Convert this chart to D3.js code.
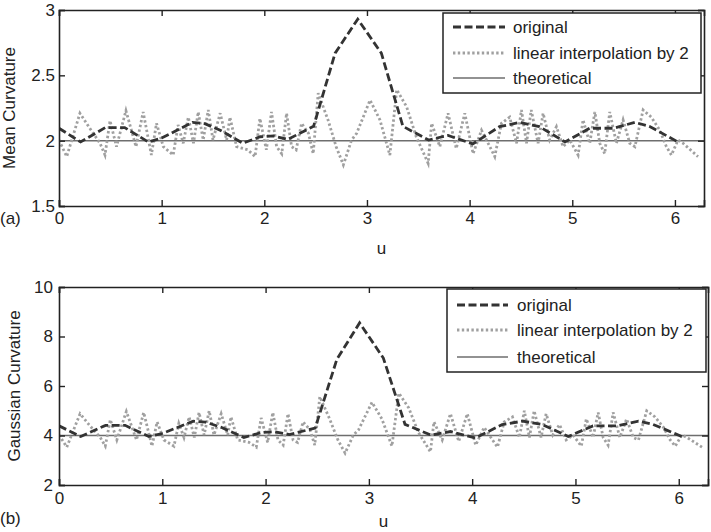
<!DOCTYPE html>
<html>
<head>
<meta charset="utf-8">
<script src="https://cdn.jsdelivr.net/npm/d3@7"></script>
<style>
  body { margin: 0; background: #fff; }
  svg { display: block; font-family: "Liberation Sans", Arial, sans-serif; }
</style>
</head>
<body>
<script>
// u positions and values of the "original" estimate
var uOrig = [0.00, 0.21, 0.45, 0.64, 0.87, 1.00, 1.30, 1.42, 1.57, 1.79,
             1.96, 2.09, 2.23, 2.48, 2.69, 2.91, 3.14, 3.35, 3.60, 3.79,
             4.03, 4.29, 4.49, 4.68, 4.93, 5.17, 5.40, 5.61, 5.75, 6.03];
var hOrig = [2.095, 1.99, 2.10, 2.10, 1.99, 2.02, 2.14, 2.13, 2.08, 1.98,
             2.03, 2.036, 2.01, 2.11, 2.67, 2.93, 2.67, 2.11, 2.005, 2.04,
             1.975, 2.107, 2.14, 2.107, 1.99, 2.095, 2.095, 2.14, 2.11, 1.99];
var kOrig = [4.39, 3.96, 4.41, 4.41, 3.96, 4.08, 4.58, 4.54, 4.33, 3.92,
             4.12, 4.15, 4.04, 4.30, 7.08, 8.55, 7.13, 4.45, 4.02, 4.16,
             3.90, 4.44, 4.58, 4.44, 3.96, 4.39, 4.39, 4.58, 4.45, 3.96];

// "linear interpolation by 2"
var uInterp = [0.00, 0.075, 0.204, 0.30, 0.40, 0.448, 0.497, 0.56, 0.652, 0.75,
               0.82, 0.90, 0.95, 1.016, 1.113, 1.16, 1.21, 1.26, 1.31, 1.356,
               1.405, 1.454, 1.50, 1.57, 1.633, 1.665, 1.73, 1.84, 1.91, 1.957,
               2.02, 2.07, 2.12, 2.17, 2.217, 2.266, 2.31, 2.363, 2.43, 2.476,
               2.525, 2.62, 2.70, 2.77, 2.85, 2.90, 3.03, 3.126, 3.223, 3.29,
               3.386, 3.48, 3.596, 3.63, 3.71, 3.79, 3.87, 3.953, 4.034, 4.116,
               4.197, 4.245, 4.31, 4.39, 4.457, 4.505, 4.554, 4.60, 4.667, 4.716,
               4.78, 4.846, 4.91, 4.976, 5.057, 5.105, 5.17, 5.22, 5.268, 5.316,
               5.365, 5.43, 5.495, 5.56, 5.61, 5.69, 5.77, 5.852, 5.917, 5.966,
               6.03, 6.08, 6.225];
var hInterp = [2.005, 1.878, 2.21, 2.095, 1.98, 1.89, 2.153, 1.954, 2.23, 1.954,
               2.22, 1.89, 2.133, 1.954, 1.89, 2.12, 1.98, 2.18, 1.98, 2.22,
               2.005, 2.235, 2.005, 2.21, 2.005, 2.18, 1.954, 1.93, 1.878, 2.17,
               1.93, 2.22, 1.954, 1.90, 2.21, 1.954, 1.93, 2.133, 2.057, 1.90,
               2.363, 2.16, 1.954, 1.814, 2.005, 2.057, 2.31, 2.16, 1.89, 2.39,
               2.26, 2.03, 1.827, 2.133, 1.954, 2.21, 1.94, 2.21, 1.90, 2.08,
               1.954, 1.878, 2.133, 2.18, 1.98, 2.235, 1.98, 2.235, 1.98, 2.21,
               2.005, 2.107, 1.954, 2.005, 1.89, 2.16, 1.98, 2.22, 1.98, 1.90,
               2.22, 1.98, 2.16, 1.98, 1.954, 2.235, 2.18, 2.08, 1.954, 1.89,
               2.005, 1.98, 1.878];
var kInterp = [4.02, 3.53, 4.88, 4.39, 3.92, 3.57, 4.64, 3.82, 4.97, 3.82,
               4.93, 3.57, 4.55, 3.82, 3.57, 4.49, 3.92, 4.75, 3.92, 4.93,
               4.02, 5.00, 4.02, 4.88, 4.02, 4.75, 3.82, 3.72, 3.53, 4.71,
               3.72, 4.93, 3.82, 3.61, 4.88, 3.82, 3.72, 4.55, 4.23, 3.61,
               5.57, 4.67, 3.82, 3.29, 4.02, 4.23, 5.34, 4.67, 3.57, 5.71,
               5.11, 4.12, 3.34, 4.55, 3.82, 4.88, 3.76, 4.88, 3.61, 4.33,
               3.82, 3.53, 4.55, 4.75, 3.92, 5.00, 3.92, 5.00, 3.92, 4.88,
               4.02, 4.44, 3.82, 4.02, 3.57, 4.67, 3.92, 4.93, 3.92, 3.61,
               4.93, 3.92, 4.67, 3.92, 3.82, 5.00, 4.75, 4.33, 3.82, 3.57,
               4.02, 3.92, 3.53];

var hTheory = 2;
var kTheory = 4;

var xTicks = [0, 1, 2, 3, 4, 5, 6];
var hTicks = [1.5, 2, 2.5, 3];
var kTicks = [2, 4, 6, 8, 10];
var legendNames = ['original', 'linear interpolation by 2', 'theoretical'];

var svg = d3.select('body').append('svg').attr('width', 711).attr('height', 532);
svg.append('rect').attr('width', 711).attr('height', 532).attr('fill', '#fff');

var styles = [
  { stroke: '#333', width: 2.8, dash: '8,3.5' },
  { stroke: '#a0a0a0', width: 2.8, dash: '2.4,2.4' },
  { stroke: '#6e6e6e', width: 1.5, dash: null }
];

function drawPanel(p) {
  var x = d3.scaleLinear().domain([0, 2 * Math.PI]).range([p.left, p.right]);
  var y = d3.scaleLinear().domain(p.yDomain).range([p.bottom, p.top]);
  var g = svg.append('g');

  var clipId = 'clip' + p.id;
  g.append('clipPath').attr('id', clipId).append('rect')
    .attr('x', p.left).attr('y', p.top)
    .attr('width', p.right - p.left).attr('height', p.bottom - p.top);

  var line = d3.line().x(function(d){ return x(d[0]); }).y(function(d){ return y(d[1]); });
  var plot = g.append('g').attr('clip-path', 'url(#' + clipId + ')');

  // theoretical
  plot.append('path')
    .datum([[0, p.theory], [2 * Math.PI, p.theory]])
    .attr('d', line).attr('fill', 'none')
    .attr('stroke', styles[2].stroke).attr('stroke-width', styles[2].width);

  // interpolated (dotted)
  plot.append('path')
    .datum(p.uI.map(function(u, i){ return [u, p.vI[i]]; }))
    .attr('d', line).attr('fill', 'none')
    .attr('stroke', styles[1].stroke).attr('stroke-width', styles[1].width)
    .attr('stroke-dasharray', styles[1].dash);

  // original (dashed)
  plot.append('path')
    .datum(p.uO.map(function(u, i){ return [u, p.vO[i]]; }))
    .attr('d', line).attr('fill', 'none')
    .attr('stroke', styles[0].stroke).attr('stroke-width', styles[0].width)
    .attr('stroke-dasharray', styles[0].dash);

  // axes, ticks pointing inward
  var fmt = function(d){ return String(d); };
  g.append('g').attr('transform', 'translate(0,' + p.bottom + ')')
    .call(d3.axisBottom(x).tickValues(xTicks).tickSize(-6).tickPadding(p.xPad).tickFormat(fmt));
  g.append('g').attr('transform', 'translate(0,' + p.top + ')')
    .call(d3.axisTop(x).tickValues(xTicks).tickSize(-6).tickFormat(''));
  g.append('g').attr('transform', 'translate(' + p.left + ',0)')
    .call(d3.axisLeft(y).tickValues(p.yTicks).tickSize(-6).tickPadding(p.yPad).tickFormat(fmt));
  g.append('g').attr('transform', 'translate(' + p.right + ',0)')
    .call(d3.axisRight(y).tickValues(p.yTicks).tickSize(-6).tickFormat(''));

  g.selectAll('.domain').attr('stroke', '#222').attr('stroke-width', 1.6);
  g.selectAll('.tick line').attr('stroke', '#222').attr('stroke-width', 1.4);
  g.selectAll('.tick text').attr('font-size', 17).attr('fill', '#222')
    .attr('font-family', '"Liberation Sans", Arial, sans-serif');

  // axis titles
  g.append('text').attr('x', (p.left + p.right) / 2).attr('y', p.uBase)
    .attr('text-anchor', 'middle').attr('font-size', 17).attr('fill', '#222').text('u');
  g.append('text')
    .attr('transform', 'translate(' + p.yLabelX + ',' + (p.top + p.bottom) / 2 + ') rotate(-90)')
    .attr('text-anchor', 'middle').attr('font-size', 17).attr('fill', '#222').text(p.yLabel);
  g.append('text').attr('x', 0).attr('y', p.tagBase)
    .attr('font-size', 17).attr('fill', '#222').text(p.tag);

  // legend
  var lg = p.legend;
  g.append('rect').attr('x', lg.x0).attr('y', lg.y0)
    .attr('width', lg.x1 - lg.x0).attr('height', lg.y1 - lg.y0)
    .attr('fill', '#fff').attr('stroke', '#222').attr('stroke-width', 1.5);
  legendNames.forEach(function(name, i){
    var yy = lg.rows[i];
    g.append('line').attr('x1', lg.lx0).attr('x2', lg.lx1).attr('y1', yy).attr('y2', yy)
      .attr('stroke', styles[i].stroke).attr('stroke-width', styles[i].width)
      .attr('stroke-dasharray', styles[i].dash);
    g.append('text').attr('x', lg.tx).attr('y', yy).attr('dy', '0.35em')
      .attr('font-size', 17).attr('fill', '#222').text(name);
  });
}

drawPanel({
  id: 'a', left: 59, right: 704, top: 10, bottom: 206,
  yDomain: [1.5, 3], yTicks: hTicks, theory: hTheory,
  uO: uOrig, vO: hOrig, uI: uInterp, vI: hInterp,
  xPad: 6, yPad: 4, uBase: 254, yLabelX: 15, yLabel: 'Mean Curvature',
  tag: '(a)', tagBase: 224,
  legend: { x0: 443, x1: 701, y0: 13, y1: 93, rows: [27, 53, 78], lx0: 453, lx1: 505, tx: 513 }
});

drawPanel({
  id: 'b', left: 59, right: 708, top: 287, bottom: 485,
  yDomain: [2, 10], yTicks: kTicks, theory: kTheory,
  uO: uOrig, vO: kOrig, uI: uInterp, vI: kInterp,
  xPad: 7, yPad: 6, uBase: 527, yLabelX: 20, yLabel: 'Gaussian Curvature',
  tag: '(b)', tagBase: 524,
  legend: { x0: 447, x1: 706, y0: 289, y1: 372, rows: [305, 330, 357], lx0: 457, lx1: 508, tx: 517 }
});
</script>
</body>
</html>
